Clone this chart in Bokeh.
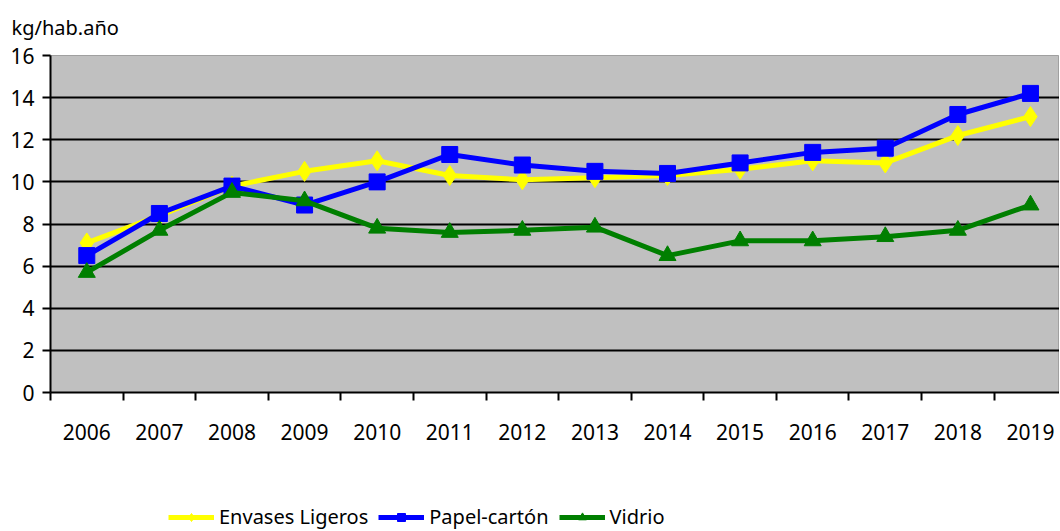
from bokeh.plotting import figure
from bokeh.layouts import column
from bokeh.models import FixedTicker, Legend, LegendItem, Range1d
from bokeh.embed import file_html
from bokeh.resources import INLINE

years = ["2006", "2007", "2008", "2009", "2010", "2011", "2012",
         "2013", "2014", "2015", "2016", "2017", "2018", "2019"]
envases = [7.1, 8.4, 9.8, 10.5, 11.0, 10.3, 10.1, 10.2, 10.3, 10.6, 11.0, 10.9, 12.2, 13.1]
papel = [6.5, 8.5, 9.8, 8.9, 10.0, 11.3, 10.8, 10.5, 10.4, 10.9, 11.4, 11.6, 13.2, 14.2]
vidrio = [5.7, 7.7, 9.5, 9.1, 7.8, 7.6, 7.7, 7.85, 6.5, 7.2, 7.2, 7.4, 7.7, 8.9]
y_ticks = [0, 2, 4, 6, 8, 10, 12, 14, 16]

FONT = "Noto Sans"
xs = [i + 0.5 for i in range(len(years))]

p = figure(width=1059, height=460, output_backend="svg", toolbar_location=None,
           x_range=Range1d(0, 13.9), y_range=Range1d(0, 16),
           min_border_left=50, min_border_right=0, min_border_top=55, min_border_bottom=68)

p.background_fill_color = "#C0C0C0"
p.border_fill_color = "white"
p.outline_line_color = "#A0A0A0"
p.outline_line_width = 1

# title
p.title.text = "kg/hab.año"
p.title.text_font = FONT
p.title.text_font_size = "20px"
p.title.text_font_style = "normal"
p.title.align = "left"
p.title.vertical_align = "top"
p.title.offset = -52
p.title.standoff = 0
p.title.padding = 13
p.title.text_color = "black"

# x axis
xa = p.xaxis[0]
xa.ticker = FixedTicker(ticks=xs, minor_ticks=list(range(0, 15)))
xa.major_label_overrides = {x: y for x, y in zip(xs, years)}
xa.major_tick_out = 0
xa.major_tick_in = 0
xa.minor_tick_out = 8
xa.minor_tick_in = 0
xa.minor_tick_line_color = "black"
xa.minor_tick_line_width = 2
xa.axis_line_color = "black"
xa.axis_line_width = 2
xa.major_label_standoff = 23
xa.major_label_text_font = FONT
xa.major_label_text_font_size = "21px"
xa.major_label_text_color = "black"

# y axis
ya = p.yaxis[0]
ya.ticker = FixedTicker(ticks=y_ticks)
ya.major_tick_out = 8
ya.major_tick_in = 0
ya.major_tick_line_width = 2
ya.major_tick_line_color = "black"
ya.minor_tick_out = 0
ya.minor_tick_in = 0
ya.axis_line_color = "black"
ya.axis_line_width = 2
ya.major_label_standoff = 8
ya.major_label_text_font = FONT
ya.major_label_text_font_size = "21px"
ya.major_label_text_color = "black"

p.xgrid.visible = False
p.ygrid.ticker = FixedTicker(ticks=y_ticks[1:-1])
p.ygrid.grid_line_color = "black"
p.ygrid.grid_line_width = 2

series = [
    ("Envases Ligeros", envases, "#FFFF00", "diamond", 20),
    ("Papel-cartón", papel, "#0000FF", "square", 16),
    ("Vidrio", vidrio, "#007F00", "triangle", 17),
]

# legend figure below the chart
lf = figure(width=1059, height=70, output_backend="svg", toolbar_location=None,
            x_range=Range1d(0, 1), y_range=Range1d(0, 1),
            x_axis_type=None, y_axis_type=None,
            min_border_left=0, min_border_right=0, min_border_top=0, min_border_bottom=0)
lf.outline_line_color = None
lf.background_fill_color = "white"
lf.xgrid.visible = False
lf.ygrid.visible = False

items = []
for name, vals, color, marker, size in series:
    p.line(xs, vals, line_color=color, line_width=5)
    p.scatter(xs, vals, marker=marker, size=size, fill_color=color, line_color=color)
    # off-range dummy points so only the legend swatch is visible
    l1 = lf.line([-10, -9], [-10, -10], line_color=color, line_width=5)
    l2 = lf.scatter([-10], [-10], marker=marker, size=size - 2, fill_color=color, line_color=color)
    items.append(LegendItem(label=name, renderers=[l1, l2]))

legend = Legend(items=items, orientation="horizontal", location=(118, 0))
legend.label_text_font = FONT
legend.label_text_font_size = "20px"
legend.label_text_color = "black"
legend.glyph_width = 46
legend.glyph_height = 20
legend.label_height = 20
legend.label_standoff = 5
legend.spacing = 10
legend.padding = 0
legend.margin = 0
legend.border_line_color = None
legend.background_fill_alpha = 0
lf.add_layout(legend, "center")

open("out.html", "w").write(file_html(column(p, lf), INLINE))
